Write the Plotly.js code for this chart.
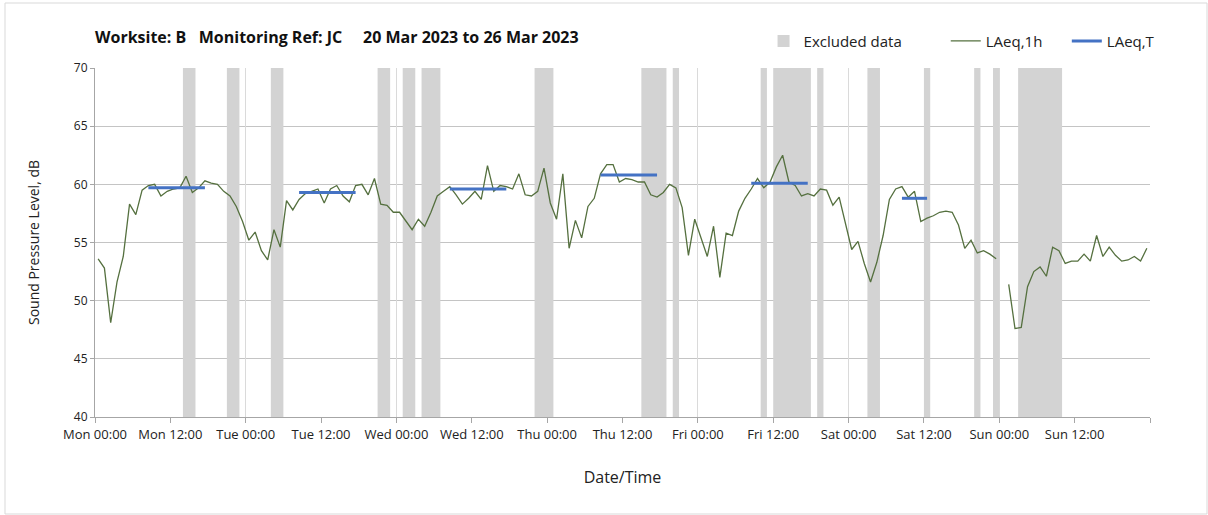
<!DOCTYPE html>
<html>
<head>
<meta charset="utf-8">
<script src="https://cdn.plot.ly/plotly-3.0.1.min.js"></script>
<style>html,body{margin:0;padding:0;background:#fff;}#chart{width:1208px;height:515px;}</style>
</head>
<body>
<div id="chart"></div>
<script>
// ---- Data ----
const startDate = '2023-03-20'; // Mon 20 Mar 2023 00:00
const titleText = 'Worksite: B\u00A0\u00A0\u00A0Monitoring Ref: JC\u00A0\u00A0\u00A0\u00A0\u00A020 Mar 2023 to 26 Mar 2023';

// LAeq,1h hourly values (dB), hour 0 = Mon 00:00-01:00
const laeq1h = [
  53.6,52.8,48.1,51.6,53.8,58.3,57.4,59.5,59.9,60.0,59.0,59.4,59.6,59.7,60.7,59.3,59.7,60.3,60.1,60.0,59.4,59.0,58.1,56.8,
  55.2,55.9,54.3,53.5,56.1,54.6,58.6,57.8,58.7,59.2,59.4,59.6,58.4,59.6,59.9,59.0,58.5,59.9,60.0,59.1,60.5,58.3,58.2,57.6,
  57.6,56.9,56.1,57.0,56.4,57.6,59.0,59.4,59.8,59.1,58.3,58.8,59.4,58.7,61.6,59.4,59.9,59.8,59.6,60.9,59.1,59.0,59.4,61.4,
  58.4,57.0,60.9,54.5,56.9,55.4,58.1,58.8,60.9,61.7,61.7,60.2,60.5,60.4,60.2,60.2,59.1,58.9,59.3,60.0,59.7,58.0,53.9,57.0,
  55.4,53.8,56.4,52.0,55.8,55.6,57.7,58.8,59.6,60.5,59.7,60.2,61.5,62.5,60.2,59.9,59.0,59.2,59.0,59.6,59.5,58.2,58.9,56.7,
  54.4,55.1,53.2,51.6,53.3,55.6,58.7,59.6,59.8,58.9,59.4,56.8,57.1,57.3,57.6,57.7,57.6,56.5,54.5,55.2,54.1,54.3,54.0,53.6,
  null,51.4,47.6,47.7,51.2,52.5,52.9,52.1,54.6,54.3,53.2,53.4,53.4,54.0,53.4,55.6,53.8,54.6,53.9,53.4,53.5,53.8,53.4,54.5
];

// LAeq,T periods (start hour, end hour, level dB)
const laeqTStart = [8, 32, 56, 80, 104, 128];
const laeqTEnd   = [18, 42, 66, 90, 114, 133];
const laeqTValue = [59.7, 59.3, 59.6, 60.8, 60.1, 58.8];

// Excluded data periods (start hour, end hour)
const exclStart = [14, 21, 28, 45, 49, 52, 70, 87, 92, 106, 108, 115, 123, 132, 140, 143, 147];
const exclEnd   = [16, 23, 30, 47, 51, 55, 73, 91, 93, 107, 114, 116, 125, 133, 141, 144, 154];

// x-axis tick labels (every 12 h from Mon 00:00)
const tickHours  = [0, 12, 24, 36, 48, 60, 72, 84, 96, 108, 120, 132, 144, 156];
const tickLabels = ['Mon 00:00', 'Mon 12:00', 'Tue 00:00', 'Tue 12:00', 'Wed 00:00', 'Wed 12:00', 'Thu 00:00',
                    'Thu 12:00', 'Fri 00:00', 'Fri 12:00', 'Sat 00:00', 'Sat 12:00', 'Sun 00:00', 'Sun 12:00'];

const yMin = 40, yMax = 70;
const totalHours = 168;

// ---- Helpers ----
const HOUR = 3600000;
const t0 = Date.parse(startDate + 'T00:00:00Z');
const hx = h => t0 + h * HOUR;

const lineX = laeq1h.map((v, i) => hx(i + 0.5));

const tX = [], tY = [];
laeqTStart.forEach((s, k) => {
  tX.push(hx(s + 0.5), hx(laeqTEnd[k] - 0.5), null);
  tY.push(laeqTValue[k], laeqTValue[k], null);
});

const exX = exclStart.map((s, k) => hx((s + exclEnd[k]) / 2));
const exW = exclStart.map((s, k) => (exclEnd[k] - s) * HOUR);
const exY = exclStart.map(() => yMax - yMin);
const exB = exclStart.map(() => yMin);

const FONT = '"Open Sans", "Noto Sans", sans-serif';
const PAD = '\u00A0\u00A0\u00A0\u00A0\u00A0';

const traces = [
  {type: 'bar', name: 'Excluded data' + PAD + PAD, x: exX, y: exY, base: exB, width: exW,
   marker: {color: '#d3d3d3', line: {width: 0}}, hoverinfo: 'skip'},
  {type: 'scatter', mode: 'lines', name: 'LAeq,1h' + PAD, x: lineX, y: laeq1h,
   line: {color: '#55703f', width: 1.3}, connectgaps: false},
  {type: 'scatter', mode: 'lines', name: 'LAeq,T', x: tX, y: tY,
   line: {color: '#4472c4', width: 3}, connectgaps: false},
  {type: 'scatter', x: [], y: [], xaxis: 'x2', showlegend: false, hoverinfo: 'skip'}
];

const range = [hx(0), hx(totalHours)];

const layout = {
  width: 1208, height: 515,
  paper_bgcolor: '#ffffff', plot_bgcolor: '#ffffff',
  margin: {l: 95, r: 58, t: 68, b: 98},
  font: {family: FONT, color: '#222', size: 13},
  barmode: 'overlay',
  showlegend: true,
  title: {text: '<b>' + titleText + '</b>', x: 0, xref: 'paper', xanchor: 'left',
          y: 1 - 37 / 515, yref: 'container', yanchor: 'middle',
          font: {family: FONT, size: 16, color: '#111'}},
  legend: {orientation: 'h', x: 1.01, xanchor: 'right', y: 1.077, yanchor: 'middle',
           font: {family: FONT, size: 15, color: '#222'}, bgcolor: 'rgba(0,0,0,0)'},
  xaxis: {type: 'date', range: range, tickmode: 'array', tickvals: tickHours.map(hx), ticktext: tickLabels,
          showgrid: false, zeroline: false, showline: true, linecolor: '#a6a6a6', linewidth: 1,
          ticks: 'outside', ticklen: 5, tickcolor: '#a6a6a6',
          tickfont: {family: FONT, size: 13, color: '#222'},
          title: {text: 'Date/Time', font: {family: FONT, size: 16, color: '#222'}, standoff: 30}},
  xaxis2: {type: 'date', overlaying: 'x', anchor: 'y', range: range, tick0: hx(0), dtick: 24 * HOUR,
           showgrid: true, gridcolor: '#dadada', gridwidth: 1, showticklabels: false,
           ticks: 'outside', ticklen: 5, tickcolor: '#a6a6a6',
           zeroline: false, showline: false},
  yaxis: {range: [yMin, yMax], dtick: 5, showgrid: true, gridcolor: '#c4c4c4', gridwidth: 1,
          zeroline: false, showline: true, linecolor: '#a6a6a6', linewidth: 1,
          ticks: 'outside', ticklen: 4, tickcolor: '#a6a6a6',
          tickfont: {family: FONT, size: 12, color: '#222'},
          title: {text: 'Sound Pressure Level, dB', font: {family: FONT, size: 14, color: '#222'}, standoff: 30}},
  shapes: [
    {type: 'rect', xref: 'paper', yref: 'paper', layer: 'below',
     x0: (5 - 95) / 1055, x1: (1207 - 95) / 1055, y0: (417 - 514) / 349, y1: (417 - 3) / 349,
     line: {color: '#d9d9d9', width: 1}, fillcolor: 'rgba(0,0,0,0)'}
  ]
};

Plotly.newPlot('chart', traces, layout, {displayModeBar: false, responsive: false});
</script>
</body>
</html>
